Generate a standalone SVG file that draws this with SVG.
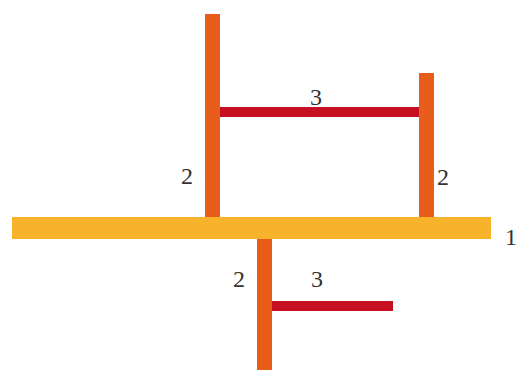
<svg xmlns="http://www.w3.org/2000/svg" width="518" height="370" viewBox="0 0 518 370">
<style>
.y{fill:#F7B32B}.o{fill:#E95D1A}.r{fill:#C70F23}
text{font-family:"Liberation Serif","Times New Roman",serif;font-size:24px;fill:#333}
</style>
<rect width="518" height="370" fill="#fff"/>
<g id="connectors">
<rect class="o" x="205" y="14" width="15" height="204"/>
<rect class="o" x="419" y="73" width="15" height="145"/>
<rect class="r" x="220" y="107" width="199" height="10"/>
<rect class="o" x="257" y="238" width="15" height="132"/>
<rect class="r" x="272" y="301" width="121" height="10"/>
</g>
<g id="base"><rect class="y" x="12" y="217" width="479" height="22"/></g>
<g id="labels">
<text x="505" y="245">1</text>
<text x="181" y="184">2</text>
<text x="437" y="185">2</text>
<text x="233" y="287">2</text>
<text x="310" y="105">3</text>
<text x="311" y="287">3</text>
</g>
</svg>
